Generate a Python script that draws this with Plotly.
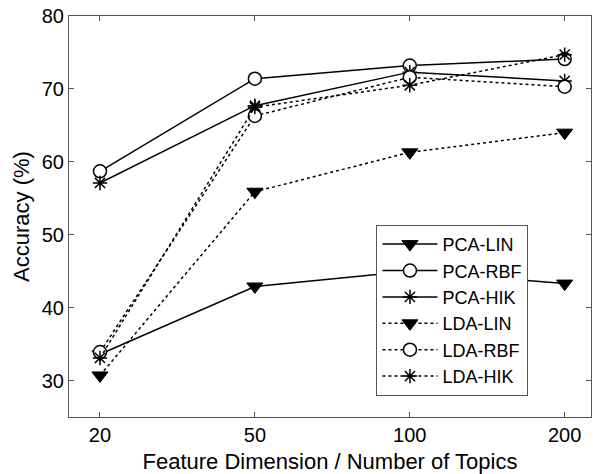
import plotly.graph_objects as go

x_labels = ["20", "50", "100", "200"]
pca_lin = [33.6, 42.9, 45.0, 43.3]
pca_rbf = [58.7, 71.4, 73.2, 74.1]
pca_hik = [57.1, 67.7, 72.3, 71.1]
lda_lin = [30.7, 55.9, 61.3, 64.0]
lda_rbf = [33.9, 66.3, 71.6, 70.3]
lda_hik = [33.1, 67.5, 70.5, 74.7]

series = [
    ("PCA-LIN", pca_lin, "solid", "triangle-down"),
    ("PCA-RBF", pca_rbf, "solid", "circle"),
    ("PCA-HIK", pca_hik, "solid", "asterisk-open"),
    ("LDA-LIN", lda_lin, "dot", "triangle-down"),
    ("LDA-RBF", lda_rbf, "dot", "circle"),
    ("LDA-HIK", lda_hik, "dot", "asterisk-open"),
]

xs = list(range(len(x_labels)))
fig = go.Figure()
for name, vals, dash, sym in series:
    if sym == "triangle-down":
        marker = dict(symbol=sym, size=14, color="black", line=dict(color="black", width=1))
    elif sym == "circle":
        marker = dict(symbol=sym, size=13, color="white", line=dict(color="black", width=1.5))
    else:
        marker = dict(symbol=sym, size=12, color="black", line=dict(color="black", width=1.5))
    fig.add_trace(go.Scatter(
        x=xs, y=vals, name=name, mode="lines+markers",
        line=dict(color="black", width=1.5, dash=dash),
        marker=marker,
    ))

font = "Liberation Sans, Arial, sans-serif"
axis_common = dict(
    showline=True, linecolor="#555", linewidth=1, mirror="ticks",
    ticks="inside", ticklen=5, tickcolor="#555", showgrid=False, zeroline=False,
    tickfont=dict(family=font, size=20, color="black"),
)
fig.update_layout(
    width=593, height=474,
    margin=dict(l=69, r=2, t=16, b=57),
    paper_bgcolor="white", plot_bgcolor="white",
    font=dict(family=font, color="black"),
    xaxis=dict(range=[-0.2, 3.17], tickvals=xs, ticktext=x_labels,
               title=dict(text="Feature Dimension / Number of Topics",
                          font=dict(family=font, size=22, color="black"), standoff=8),
               **axis_common),
    yaxis=dict(range=[25, 80], tickvals=[30, 40, 50, 60, 70, 80],
               title=dict(text="Accuracy (%)",
                          font=dict(family=font, size=22, color="black"), standoff=6),
               **axis_common),
    legend=dict(x=0.589, y=0.479, xanchor="left", yanchor="top",
                bgcolor="white", bordercolor="#555", borderwidth=1,
                font=dict(family=font, size=18, color="black"),
                itemwidth=55, tracegroupgap=0),
    showlegend=True,
)
fig.write_html("out.html")
